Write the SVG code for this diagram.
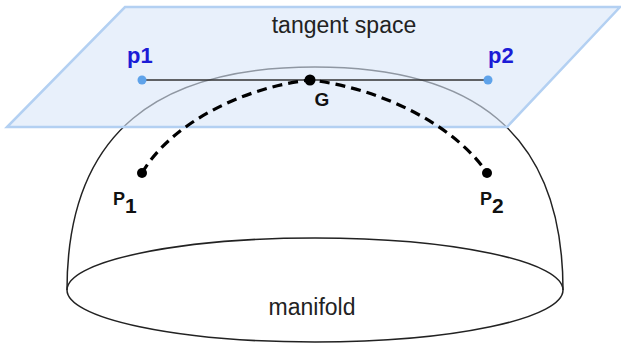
<svg xmlns="http://www.w3.org/2000/svg" width="621" height="349" viewBox="0 0 621 349">
<style>
.solid{fill:none;stroke:#222;stroke-width:1.5}
.lbl{font-family:"Liberation Sans",Arial,sans-serif;fill:#222}
.blue{font-family:"Liberation Sans",Arial,sans-serif;font-weight:bold;fill:#1c1cd6;font-size:22px}
.bold{font-family:"Liberation Sans",Arial,sans-serif;font-weight:bold;fill:#111}
.tdot{fill:#5fa3ea}
.bdot{fill:#000}
</style>
<rect width="621" height="349" fill="#fff"/>
<g id="manifold">
<path class="solid" d="M67,290 C67,130 160,67 315,67 C470,67 563,130 563,290"/>
<ellipse class="solid" cx="315" cy="290" rx="248" ry="52"/>
<text class="lbl" x="312" y="315" font-size="23" text-anchor="middle">manifold</text>
</g>
<g id="tangent-space">
<polygon points="125,7 620,7 507,127 7,127" fill="rgb(217,230,248)" fill-opacity="0.6" stroke="#b3d0f2" stroke-width="2.5" stroke-linejoin="miter"/>
<text class="lbl" x="344" y="33" font-size="23" text-anchor="middle">tangent space</text>
</g>
<g id="connectors">
<line x1="142" y1="80" x2="488" y2="80" stroke="#333" stroke-width="1.6"/>
<path d="M142,173 C170,125 240,88 310,80 C380,88 455,125 487,173" fill="none" stroke="#000" stroke-width="3.2" stroke-dasharray="10,6"/>
</g>
<g id="p1">
<circle class="tdot" cx="142" cy="80" r="4.5"/>
<text class="blue" x="127" y="63">p1</text>
</g>
<g id="p2">
<circle class="tdot" cx="488" cy="80" r="4.5"/>
<text class="blue" x="488" y="63">p2</text>
</g>
<g id="G">
<circle class="bdot" cx="310" cy="80" r="5.5"/>
<text class="bold" x="322" y="106" font-size="19" text-anchor="middle">G</text>
</g>
<g id="P1">
<circle class="bdot" cx="142" cy="173" r="5"/>
<text class="bold" x="113" y="205" font-size="18">P<tspan font-size="21" dy="8">1</tspan></text>
</g>
<g id="P2">
<circle class="bdot" cx="487" cy="173" r="5"/>
<text class="bold" x="480" y="205" font-size="18">P<tspan font-size="21" dy="8">2</tspan></text>
</g>
</svg>
